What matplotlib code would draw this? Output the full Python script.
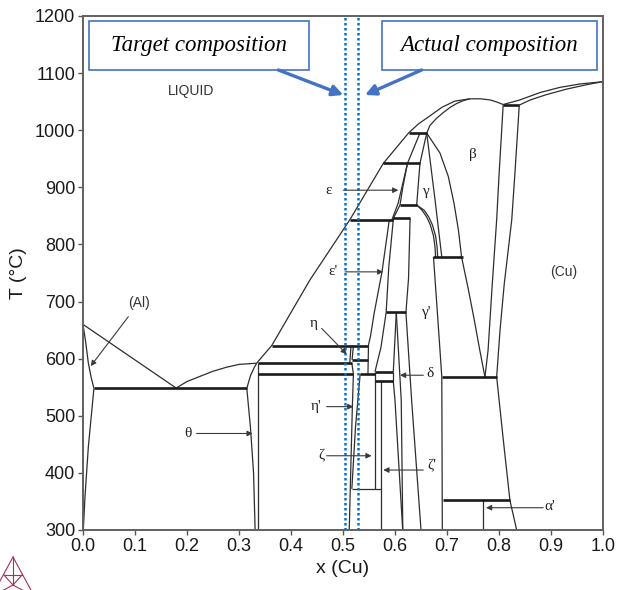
import matplotlib
matplotlib.use("Agg")
import matplotlib.pyplot as plt
from matplotlib.patches import Rectangle
from matplotlib.lines import Line2D

plt.rcParams['font.family'] = ['Liberation Sans', 'DejaVu Sans']

# phase boundaries: (x Cu, T degC)
liq_al = ([0.0, 0.18], [660, 548])
sol_al = ([0.0, 0.005, 0.0103, 0.016, 0.021], [660, 630, 592, 566, 548])
solv_al = ([0.021, 0.0103, 0.0038, 0.0006], [548, 446, 358, 300])
liq_theta = ([0.18, 0.20, 0.225, 0.25, 0.276, 0.30, 0.334], [549, 560, 569, 578, 585, 590, 592])
theta_l = ([0.334, 0.329, 0.322, 0.315, 0.322, 0.328, 0.331], [592, 584, 570, 548, 480, 400, 300])
theta_r = ([0.336, 0.336], [592, 300])
liq_mid = ([0.334, 0.345, 0.363, 0.4365, 0.513, 0.5775, 0.626, 0.645, 0.667, 0.690, 0.715,
            0.744, 0.765, 0.783, 0.797, 0.808],
           [592, 604, 623, 738, 843, 942, 995, 1011, 1025, 1040, 1051, 1055, 1055, 1053, 1049, 1045])
liq_cu = ([0.808, 0.840, 0.879, 0.917, 0.956, 1.0], [1045, 1053, 1066, 1075, 1081, 1085])
sol_cu = ([0.839, 0.86, 0.89, 0.93, 0.97, 1.0], [1044, 1053, 1062, 1072, 1080, 1085])
sol_beta = ([0.661, 0.667, 0.680, 0.693, 0.706, 0.719, 0.732, 0.744],
            [995, 1008, 1021, 1031, 1040, 1047, 1052, 1055])
beta_l = ([0.661, 0.6865, 0.7025, 0.7135, 0.722, 0.728, 0.740, 0.752, 0.763, 0.773],
          [995, 960, 919, 872, 825, 778, 726, 670, 615, 568])
beta_r = ([0.808, 0.800, 0.7955, 0.787, 0.779, 0.773], [1044, 920, 843, 730, 615, 568])
cu_l = ([0.839, 0.831, 0.8245, 0.810, 0.802, 0.7955, 0.808, 0.821, 0.834],
        [1044, 930, 843, 730, 650, 568, 460, 352, 300])
eps_a = ([0.648, 0.624, 0.606, 0.594], [995, 942, 872, 843])
eps_b = ([0.661, 0.648, 0.6417], [995, 942, 869])
eps_c = ([0.624, 0.615, 0.6096, 0.597], [942, 900, 869, 846])
gam_l = ([0.661, 0.677, 0.690], [995, 878, 778])
arc1 = ([0.6417, 0.652, 0.661, 0.668, 0.674, 0.677, 0.678], [869, 860, 848, 834, 815, 795, 778])
arc2 = ([0.6417, 0.656, 0.665, 0.672, 0.678, 0.681, 0.682], [869, 860, 848, 834, 815, 795, 778])
gam2_r = ([0.674, 0.680, 0.6865, 0.690, 0.691], [778, 700, 615, 568, 300])
eps2_l = ([0.589, 0.575, 0.560, 0.553, 0.549], [843, 752, 680, 640, 624])
eps2_r = ([0.597, 0.588, 0.583, 0.573, 0.5615], [846, 760, 681, 620, 577])
gam2_a = ([0.629, 0.626, 0.621], [846, 740, 681])
del_a = ([0.6025, 0.5967], [681, 577])
del_b = ([0.6025, 0.612, 0.615], [681, 527, 300])
del_c = ([0.621, 0.632, 0.650], [681, 527, 300])
del_d = ([0.5967, 0.600, 0.6148], [561, 527, 300])
del_r = ([0.5967, 0.5967], [577, 561])
zeta1 = ([0.5615, 0.5615], [577, 372])
zeta2 = ([0.574, 0.574], [561, 300])
eta_v = ([0.549, 0.548], [624, 573])
eta_l = ([0.5155, 0.513], [623, 592])
eta_r = ([0.520, 0.5175], [623, 598])
eta2_a = ([0.517, 0.520, 0.518, 0.512], [592, 573, 516, 300])
eta2_b = ([0.533, 0.524, 0.517], [573, 480, 372])
zeta_h = ([0.517, 0.574], [372, 372])
alpha_v = ([0.7686, 0.7686], [352, 300])

# invariant (horizontal) lines
inv_T = [548, 623, 592, 573, 573, 598, 577, 561, 681, 843, 846, 869, 942, 995, 778, 568, 352, 1044]
inv_x0 = [0.021, 0.363, 0.337, 0.337, 0.533, 0.517, 0.5615, 0.5615, 0.583, 0.5135, 0.597,
          0.6096, 0.5775, 0.626, 0.674, 0.690, 0.693, 0.808]
inv_x1 = [0.315, 0.549, 0.517, 0.520, 0.5615, 0.549, 0.5967, 0.5967, 0.621, 0.597, 0.629,
          0.6417, 0.648, 0.661, 0.730, 0.797, 0.821, 0.839]

target_x = 0.504
actual_x = 0.529

thin_lines = [liq_al, sol_al, solv_al, liq_theta, theta_l, theta_r, liq_mid, liq_cu, sol_cu,
              sol_beta, beta_l, beta_r, cu_l, eps_a, eps_b, eps_c, gam_l, arc1, arc2, gam2_r,
              eps2_l, eps2_r, gam2_a, del_a, del_b, del_c, del_d, del_r, zeta1, zeta2, eta_v,
              eta_l, eta_r, eta2_a, eta2_b, zeta_h, alpha_v]

fig = plt.figure(figsize=(6.19, 5.90), dpi=100)
ax = fig.add_axes([83 / 619, 60 / 590, 520 / 619, 514 / 590])

line_c = '#2e2e2e'
for xs, ts in thin_lines:
    ax.plot(xs, ts, color=line_c, lw=0.9, solid_capstyle='butt')
ax.hlines(inv_T, inv_x0, inv_x1, colors='#1a1a1a', lw=1.9)

# composition markers
for xc in (target_x, actual_x):
    ax.axvline(xc, color='#0b6fc7', lw=1.8, dashes=(1, 1))

# phase labels
greek = dict(family=['Liberation Serif', 'DejaVu Serif'], fontsize=11, color='#222222',
             ha='center', va='center')
sans = dict(fontsize=10, color='#333333', ha='center', va='center')
ax.text(0.2077, 1069, 'LIQUID', **sans)
ax.text(0.9237, 752, '(Cu)', **sans)
ax.text(0.1073, 697, '(Al)', **sans)
ax.text(0.7506, 957, 'β', **greek)
ax.text(0.661, 892, 'γ', **greek)
ax.text(0.661, 680, "γ'", **greek)

arrow_labels = [
    ('θ', (0.201, 469), (0.2186, 469), (0.3263, 469)),
    ('ε', (0.4718, 895), (0.5006, 895), (0.6064, 895)),
    ("ε'", (0.4814, 752), (0.504, 752), (0.5775, 752)),
    ('η', (0.443, 662), (0.459, 653), (0.507, 608)),
    ("η'", (0.449, 516), (0.4686, 516), (0.520, 516)),
    ('ζ', (0.459, 430), (0.4686, 430), (0.555, 430)),
    ('δ', (0.668, 574), (0.6545, 571), (0.6096, 571)),
    ("ζ'", (0.6705, 412), (0.6545, 405), (0.5775, 405)),
    ("α'", (0.898, 341), (0.885, 339), (0.775, 339)),
]
for lab, tpos, start, tip in arrow_labels:
    ax.text(tpos[0], tpos[1], lab, **greek)
    ax.annotate('', xy=tip, xytext=start,
                arrowprops=dict(arrowstyle='-|>', color='#3a3a3a', lw=0.8,
                                mutation_scale=8, shrinkA=0, shrinkB=0))
ax.annotate('', xy=(0.0148, 587), xytext=(0.0872, 673.5),
            arrowprops=dict(arrowstyle='-|>', color='#3a3a3a', lw=0.8,
                            mutation_scale=8, shrinkA=0, shrinkB=0))

# callout boxes
box_c = '#4472c4'
boxes = [('Target composition', 0.0121, 0.4352, (0.3756, 1105.5), (0.5006, 1061.7)),
         ('Actual composition', 0.5744, 0.9878, (0.6513, 1105.5), (0.5423, 1061.7))]
for txt, bx0, bx1, a0, a1 in boxes:
    ax.add_patch(Rectangle((bx0, 1105.5), bx1 - bx0, 86.3, facecolor='white',
                           edgecolor=box_c, lw=1.2, zorder=5))
    ax.text((bx0 + bx1) / 2, 1149, txt, family=['Liberation Serif', 'DejaVu Serif'],
            style='italic', fontsize=16.5, ha='center', va='center', zorder=6)
    ax.annotate('', xy=a1, xytext=a0,
                arrowprops=dict(arrowstyle='-|>', color=box_c, lw=2.4,
                                mutation_scale=16, shrinkA=0, shrinkB=0), zorder=6)

ax.set_xlim(0, 1)
ax.set_ylim(300, 1200)
ax.set_xticks([i / 10 for i in range(11)])
ax.set_xticklabels([f'{i / 10:.1f}' for i in range(11)])
ax.set_yticks(range(300, 1201, 100))
ax.tick_params(direction='out', length=3.5, width=1, colors='#555555',
               labelcolor='#1a1a1a', labelsize=13, pad=2)
for s in ax.spines.values():
    s.set_color('#606060')
    s.set_linewidth(1.4)
ax.set_xlabel('x (Cu)', fontsize=14, color='#1a1a1a', labelpad=4)
ax.set_ylabel('T (°C)', fontsize=14, color='#1a1a1a', labelpad=6)

# small Thermo-Calc style logo in the corner
logo_c = '#a3325a'
def fp(px, py):
    return px / 619, 1 - py / 590
logo_segs = [((13, 557), (-6, 592)), ((13, 557), (32, 592)), ((13, 557), (13, 585)),
             ((13, 585), (0, 592)), ((13, 585), (26, 592)), ((4, 575), (22, 575)),
             ((4, 575), (13, 585)), ((22, 575), (13, 585))]
for p0, p1 in logo_segs:
    (x0, y0), (x1, y1) = fp(*p0), fp(*p1)
    fig.add_artist(Line2D([x0, x1], [y0, y1], color=logo_c, lw=0.8))

fig.savefig('out.png', dpi=100)
